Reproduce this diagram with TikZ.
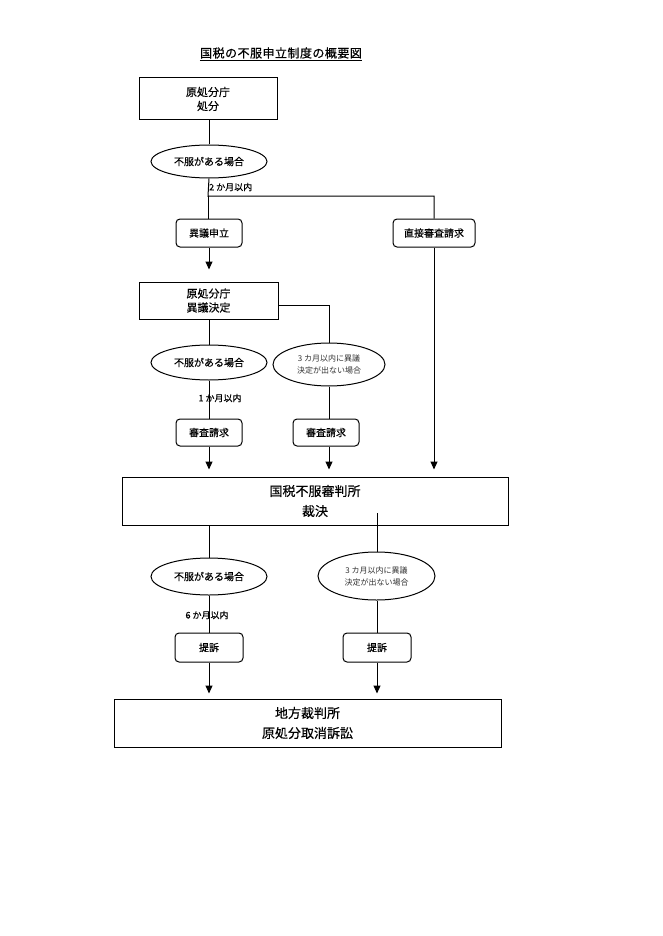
\documentclass[tikz,border=0pt]{standalone}
\usepackage{fontspec}
\setmainfont{Noto Sans CJK JP}[FakeBold=0.35]
\newfontfamily\titlefont{Noto Sans CJK JP}[FakeBold=0.6,LetterSpace=4]
\newfontfamily\smallfont{Noto Sans CJK JP}
\usetikzlibrary{shapes.geometric,arrows.meta}
\begin{document}
\begin{tikzpicture}[x=1pt,y=-1pt,
  ln/.style={line width=1pt,draw=black},
  arr/.style={ln,-{Triangle[width=7pt,length=8pt]}},
  sqbox/.style={draw,line width=1pt,inner sep=0pt,align=center,font=\fontsize{11}{14}\selectfont},
  bigbox/.style={draw,line width=1pt,inner sep=0pt,align=center,font=\fontsize{13}{20}\selectfont},
  rbox/.style={draw,line width=1pt,rounded corners=4pt,inner sep=0pt,align=center,font=\fontsize{10}{12}\selectfont},
  ell/.style={draw,ellipse,line width=1pt,inner sep=0pt,align=center,font=\fontsize{10}{12}\selectfont},
  sell/.style={draw,ellipse,line width=1pt,inner sep=0pt,align=center,font=\smallfont\fontsize{8}{12}\selectfont,text=black!80},
  lbl/.style={inner sep=0pt,font=\fontsize{9}{11}\selectfont}]
\useasboundingbox (0,0) rectangle (662,936);
\fill[white] (0,0) rectangle (662,936);
% title
\node[inner sep=0pt,font=\titlefont\fontsize{12}{14}\selectfont] (title) at (281,53) {国税の不服申立制度の概要図};
\draw[line width=0.9pt] ([yshift=-2pt]title.south west) -- ([yshift=-2pt]title.south east);
% nodes
\node[sqbox,minimum width=138pt,minimum height=42pt] (b1) at (208,99) {原処分庁\\処分};
\node[ell,minimum width=116pt,minimum height=33pt] (e1) at (209,161.5) {不服がある場合};
\node[lbl,anchor=west] (l1) at (209,187) {2 か月以内};
\node[rbox,minimum width=66pt,minimum height=28pt] (s1) at (209,233) {異議申立};
\node[rbox,minimum width=82pt,minimum height=28pt] (d1) at (434,233) {直接審査請求};
\node[sqbox,minimum width=139pt,minimum height=37pt] (b2) at (208.5,300.5) {原処分庁\\異議決定};
\node[ell,minimum width=116pt,minimum height=35pt] (e2) at (209,362.5) {不服がある場合};
\node[sell,minimum width=112pt,minimum height=43pt] (e3) at (329,364.5) {3 カ月以内に異議\\決定が出ない場合};
\node[lbl] (l2) at (220,398) {1 か月以内};
\node[rbox,minimum width=66pt,minimum height=27pt] (r1) at (209,432.5) {審査請求};
\node[rbox,minimum width=66pt,minimum height=27pt] (r2) at (326,432.5) {審査請求};
\node[bigbox,minimum width=386pt,minimum height=48pt] (bb) at (315,501) {国税不服審判所\\裁決};
\node[ell,minimum width=116pt,minimum height=37pt] (e4) at (209,576.5) {不服がある場合};
\node[sell,minimum width=117pt,minimum height=48pt] (e5) at (376.5,576) {3 カ月以内に異議\\決定が出ない場合};
\node[lbl] (l3) at (207,615) {6 か月以内};
\node[rbox,minimum width=68pt,minimum height=29pt] (t1) at (209,647.5) {提訴};
\node[rbox,minimum width=68pt,minimum height=29pt] (t2) at (377,647.5) {提訴};
\node[bigbox,minimum width=387pt,minimum height=48pt] (fb) at (307.5,723) {地方裁判所\\原処分取消訴訟};
% coordinates
\coordinate (j1) at (208,196);
\coordinate (j2) at (434,196);
\coordinate (k1) at (329,305);
\coordinate (m1) at (377,513);
% connectors
\draw[ln] (b1.south -| e1.north) -- (e1.north);
\draw[ln] (e1.south) -- (j1) -- (j2) -- (d1.north);
\draw[ln] (j1) -- (j1 |- s1.north);
\draw[arr,shorten >=12pt] (s1.south) -- (s1.south |- b2.north);
\draw[ln] ([yshift=-4.5pt]b2.east) -- (k1) -- (k1 |- e3.north);
\draw[ln] (b2.south -| e2.north) -- (e2.north);
\draw[ln] (e2.south) -- (e2.south |- r1.north);
\draw[ln] (e3.south) -- (e3.south |- r2.north);
\draw[arr,shorten >=7pt] (r1.south) -- (r1.south |- bb.north);
\draw[arr,shorten >=7pt] (e3.south |- r2.south) -- (e3.south |- bb.north);
\draw[arr,shorten >=7pt] (d1.south) -- (d1.south |- bb.north);
\draw[ln] (bb.south -| e4.north) -- (e4.north);
\draw[ln] (m1) -- (m1 |- e5.north);
\draw[ln] (e4.south) -- (e4.south |- t1.north);
\draw[ln] (m1 |- e5.south) -- (m1 |- t2.north);
\draw[arr,shorten >=5pt] (t1.south) -- (t1.south |- fb.north);
\draw[arr,shorten >=5pt] (t2.south) -- (t2.south |- fb.north);
\end{tikzpicture}
\end{document}
